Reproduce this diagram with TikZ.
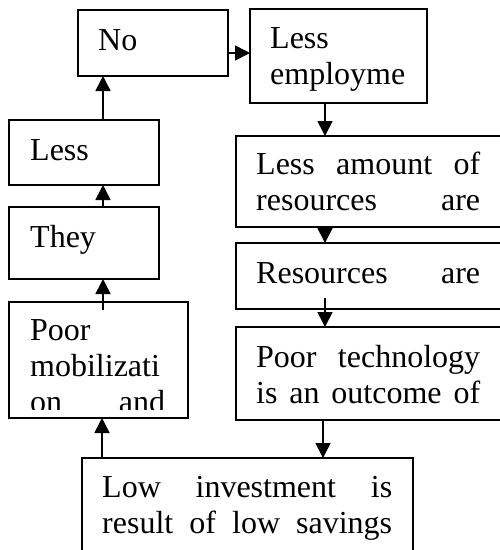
\documentclass[tikz,border=0pt]{standalone}
\usepackage{fontspec}
\setmainfont{Liberation Serif}
\usetikzlibrary{arrows.meta,calc}
\newcommand\myL[1]{\hbox to \hsize{#1\hfil}}
\newcommand\myJ[1]{\hbox to \hsize{#1}}
\tikzset{
  box/.style={draw, line width=1.8pt, anchor=north west, inner sep=0pt, outer sep=0pt},
  txt/.style={anchor=base west, inner sep=0pt, font=\fontsize{32}{36}\selectfont},
  arr/.style={line width=1.6pt, -{Triangle[length=15pt,width=15pt]}},
}
\begin{document}
\begin{tikzpicture}[x=1pt,y=-1pt]
\clip (0,0) rectangle (500,550);
\fill[white] (0,0) rectangle (500,550);
% boxes
\node[box, minimum width=150pt, minimum height=66pt] (no) at (78,10) {};
\node[box, minimum width=177pt, minimum height=94pt] (lessemp) at (250,9) {};
\node[box, minimum width=266pt, minimum height=91pt] (lessamt) at (236,136) {};
\node[box, minimum width=266pt, minimum height=66pt] (resources) at (236,243) {};
\node[box, minimum width=266pt, minimum height=93pt] (poortech) at (236,327) {};
\node[box, minimum width=331pt, minimum height=102pt] (lowinv) at (82,458) {};
\node[box, minimum width=179pt, minimum height=116pt] (poormob) at (9,302) {};
\node[box, minimum width=150pt, minimum height=72pt] (they) at (9,207) {};
\node[box, minimum width=150pt, minimum height=65pt] (lessL) at (9,120) {};
% texts (clipped like text boxes)
\begin{scope}\clip (78,10) rectangle (228,66);
\node[txt] (noT) at (98,50) {\parbox[t]{110pt}{\myL{No}}};
\end{scope}
\begin{scope}\clip (250,9) rectangle (427,93);
\node[txt] (lessempT) at (270,48) {\parbox[t]{137pt}{\myL{Less}\myL{employme}}};
\end{scope}
\begin{scope}\clip (236,136) rectangle (502,217);
\node[txt] (lessamtT) at (256,174) {\parbox[t]{224pt}{\myJ{Less\hfill amount\hfill of}\myJ{resources\hfill are}}};
\end{scope}
\begin{scope}\clip (236,243) rectangle (502,299);
\node[txt] (resourcesT) at (256,283) {\parbox[t]{224pt}{\myJ{Resources\hfill are}}};
\end{scope}
\begin{scope}\clip (236,327) rectangle (502,410);
\node[txt] (poortechT) at (256,367) {\parbox[t]{224pt}{\myJ{Poor\hfill technology}\myJ{is\hfill an\hfill outcome\hfill of}}};
\end{scope}
\begin{scope}\clip (82,458) rectangle (413,560);
\node[txt] (lowinvT) at (102,497) {\parbox[t]{290pt}{\myJ{Low\hfill investment\hfill is}\myJ{result\hfill of\hfill low\hfill savings}}};
\end{scope}
\begin{scope}\clip (9,302) rectangle (188,409);
\node[txt] (poormobT) at (30,340) {\parbox[t]{135pt}{\myL{Poor}\myL{mobilizati}\myJ{on\hfill and}}};
\end{scope}
\begin{scope}\clip (9,207) rectangle (159,270);
\node[txt] (theyT) at (30,247) {\parbox[t]{110pt}{\myL{They}}};
\end{scope}
\begin{scope}\clip (9,120) rectangle (159,175);
\node[txt] (lessLT) at (30,160) {\parbox[t]{110pt}{\myL{Less}}};
\end{scope}
% connectors
\draw[arr] ($(no.north east)+(0,43)$) -- ($(lessemp.north west)+(0,44)$);
\draw[arr] ($(lessemp.south west)+(75,0)$) -- ($(lessamt.north west)+(89,0)$);
\draw[arr] ($(lessamt.south west)+(89,0)$) -- ($(resources.north west)+(89,0)$);
\draw[arr] ($(resources.south west)+(89,-11)$) -- ($(poortech.north west)+(89,0)$);
\draw[arr] ($(poortech.south west)+(87,0)$) -- ($(lowinv.north west)+(241,0)$);
\draw[arr] ($(lowinv.north west)+(20,0)$) -- ($(poormob.south west)+(93,0)$);
\draw[arr] ($(poormob.north west)+(94,8)$) -- ($(they.south west)+(94,0)$);
\draw[arr] ($(they.north west)+(94,0)$) -- ($(lessL.south west)+(94,0)$);
\draw[arr] ($(lessL.north west)+(94,0)$) -- ($(no.south west)+(25,0)$);
\end{tikzpicture}
\end{document}
